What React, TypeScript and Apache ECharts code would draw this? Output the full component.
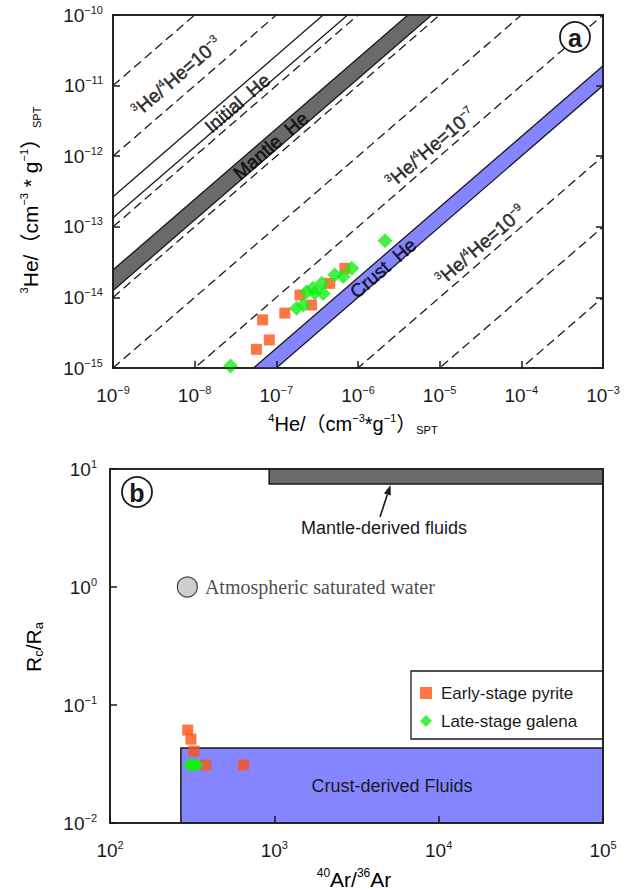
import React, { useEffect, useRef } from 'react';
import * as echarts from 'echarts';

// ---------------- Panel (a): 3He vs 4He ----------------
const he4Min = 1e-9;
const he4Max = 1e-3;
const he3Min = 1e-15;
const he3Max = 1e-10;

const pyriteHe4 = [5.7e-8, 8.2e-8, 6.8e-8, 1.27e-7, 1.95e-7, 2.7e-7, 4.5e-7, 6.9e-7];
const pyriteHe3 = [1.84e-15, 2.5e-15, 4.8e-15, 6.0e-15, 1.08e-14, 7.8e-15, 1.58e-14, 2.58e-14];
const galenaHe4 = [2.75e-8, 1.77e-7, 2.14e-7, 2.35e-7, 2.96e-7, 2.8e-7, 3.6e-7, 3.75e-7, 5.2e-7, 6.6e-7, 8.4e-7, 2.14e-6];
const galenaHe3 = [1.07e-15, 7.0e-15, 7.8e-15, 1.2e-14, 1.15e-14, 1.35e-14, 1.58e-14, 1.14e-14, 2.1e-14, 1.97e-14, 2.58e-14, 6.35e-14];

const dashedRatios = [1e-2, 1e-3, 1e-4, 1e-5, 1e-6, 1e-7, 1e-9, 1e-10, 1e-11];
const initialHeRatios = [2.67e-4, 1.34e-4];
const mantleHeRatios = [1.25e-5, 2.45e-5];
const crustHeRatios = [1.0e-8, 1.9e-8];

const heLabelTexts = [
  '{s|3}{m|He/}{s|4}{m|He=10}{s|−3}',
  '{m|Initial  He}',
  '{m|Mantle  He}',
  '{s|3}{m|He/}{s|4}{m|He=10}{s|−7}',
  '{m|Crust  He}',
  '{s|3}{m|He/}{s|4}{m|He=10}{s|−9}',
];
const heLabelLog4 = [-8.22, -7.476, -7.069, -5.11, -5.692, -4.498];
const heLabelLog3 = [-10.87, -11.251, -11.853, -11.877, -13.588, -13.258];

// ---------------- Panel (b): Rc/Ra vs 40Ar/36Ar ----------------
const arMin = 1e2;
const arMax = 1e5;
const rMin = 1e-2;
const rMax = 1e1;

const pyriteAr = [297, 311, 324, 382, 649];
const pyriteR = [0.0613, 0.0514, 0.0407, 0.031, 0.031];
const galenaAr = [303, 312, 320, 330, 340];
const galenaR = [0.031, 0.031, 0.031, 0.031, 0.031];
const aswPoint = [295.5, 1];
const mantleFluidBox = [930, 7.46, 1e5, 10];
const crustFluidBox = [270, 0.0433, 1e5, 0.01];

const seriesNames = ['Early-stage pyrite', 'Late-stage galena'];

// ---------------- styles ----------------
const FONT = '"Liberation Sans", Arial, "Noto Sans CJK SC", sans-serif';
const SERIF = '"Liberation Serif", "Times New Roman", serif';
const INK = '#1a1a1a';
const ORANGE = '#ff5214';
const GREEN = '#14f014';
const BLUE = '#8585ff';
const GRAY = '#6a6a6a';

const zip = (a: number[], b: number[]) => a.map((v, i) => [v, b[i]]);

const powLabel = (v: number) => {
  const e = Math.round(Math.log10(v));
  return `{b|10}{s|${e < 0 ? '−' + -e : e}}`;
};

const tickRich = {
  b: { fontSize: 19, lineHeight: 22, fontFamily: FONT, color: INK },
  s: { fontSize: 11, lineHeight: 11, fontFamily: FONT, color: INK, verticalAlign: 'top' },
};

function logAxis(gridIndex: number, min: number, max: number, split: number, margin: number, opts: any = {}) {
  return {
    type: 'log',
    logBase: 10,
    gridIndex,
    min,
    max,
    splitNumber: split,
    z: 10,
    axisLine: { show: true, onZero: false, lineStyle: { color: INK, width: 1.6 } },
    axisTick: { show: true, inside: true, length: 7, lineStyle: { color: INK, width: 1.5 } },
    axisLabel: { show: true, margin, formatter: powLabel, rich: tickRich },
    splitLine: { show: false },
    ...opts,
  };
}

export default function App() {
  const ref = useRef<HTMLDivElement>(null);

  useEffect(() => {
    if (!ref.current) return;
    const chart = echarts.init(ref.current, null, { renderer: 'svg' });

    const ratioLine = (R: number, dashed: boolean) => ({
      type: 'line',
      xAxisIndex: 0,
      yAxisIndex: 0,
      data: [
        [he4Min, R * he4Min],
        [he4Max, R * he4Max],
      ],
      symbol: 'none',
      silent: true,
      clip: true,
      z: 3,
      lineStyle: { color: INK, width: 1.3, type: dashed ? [9, 5] : 'solid' },
    });

    const band = (ratios: number[], fill: string) => ({
      type: 'custom',
      xAxisIndex: 0,
      yAxisIndex: 0,
      clip: true,
      silent: true,
      z: 2,
      data: [ratios],
      renderItem: (_p: any, api: any) => {
        const lo = api.value(0);
        const hi = api.value(1);
        const pts = [
          api.coord([he4Min, hi * he4Min]),
          api.coord([he4Max, hi * he4Max]),
          api.coord([he4Max, lo * he4Max]),
          api.coord([he4Min, lo * he4Min]),
        ];
        return { type: 'polygon', shape: { points: pts }, style: { fill, stroke: INK, lineWidth: 1.3 } };
      },
    });

    const box = (vals: number[], fill: string) => ({
      type: 'custom',
      xAxisIndex: 1,
      yAxisIndex: 1,
      clip: true,
      silent: true,
      z: 2,
      data: [vals],
      renderItem: (_p: any, api: any) => {
        const p0 = api.coord([api.value(0), api.value(1)]);
        const p1 = api.coord([api.value(2), api.value(3)]);
        return {
          type: 'rect',
          shape: {
            x: Math.min(p0[0], p1[0]),
            y: Math.min(p0[1], p1[1]),
            width: Math.abs(p1[0] - p0[0]),
            height: Math.abs(p1[1] - p0[1]),
          },
          style: { fill, stroke: INK, lineWidth: 1.5 },
        };
      },
    });

    const labelRich = {
      m: { fontSize: 19, lineHeight: 21, fontFamily: FONT, color: '#000', textBorderColor: '#000', textBorderWidth: 0.5 },
      s: { fontSize: 11, lineHeight: 11, fontFamily: FONT, color: '#000', verticalAlign: 'top', textBorderColor: '#000', textBorderWidth: 0.3 },
    };
    const slopeDeg = (Math.atan((353 / 5) / (490 / 6)) * 180) / Math.PI;

    // arrow geometry (annotation)
    const tail = [380, 517];
    const tip = [390.5, 485];
    const dx = tip[0] - tail[0];
    const dy = tip[1] - tail[1];
    const len = Math.hypot(dx, dy);
    const ux = dx / len;
    const uy = dy / len;
    const bx = tip[0] - ux * 10;
    const by = tip[1] - uy * 10;
    const head = [
      [tip[0], tip[1]],
      [bx - uy * 3.6, by + ux * 3.6],
      [bx + uy * 3.6, by - ux * 3.6],
    ];

    const titleRich = (size: number) => ({
      m: { fontSize: size, lineHeight: size + 3, fontFamily: FONT, color: INK },
      s: { fontSize: 11, lineHeight: 11, fontFamily: FONT, color: INK, verticalAlign: 'top' },
      d: { fontSize: 11, lineHeight: 11, fontFamily: FONT, color: INK, verticalAlign: 'bottom' },
    });

    const circled = (cx: number, cy: number, letter: string) => ({
      type: 'group',
      z: 60,
      children: [
        { type: 'circle', shape: { cx, cy, r: 15 }, style: { fill: '#fff', stroke: INK, lineWidth: 1.8 }, z: 60 },
        {
          type: 'text',
          x: cx,
          y: cy + 1,
          z: 61,
          style: { text: letter, font: `bold 25px ${FONT}`, fill: INK, align: 'center', verticalAlign: 'middle' },
        },
      ],
    });

    const option: any = {
      animation: false,
      backgroundColor: '#fff',
      grid: [
        { left: 113, top: 15, width: 490, height: 353, show: true, borderColor: INK, borderWidth: 1.5, backgroundColor: '#fff' },
        { left: 110, top: 469, width: 493, height: 354, show: true, borderColor: INK, borderWidth: 1.5, backgroundColor: '#fff' },
      ],
      xAxis: [
        logAxis(0, he4Min, he4Max, 6, 16),
        logAxis(1, arMin, arMax, 3, 16),
        logAxis(0, he4Min, he4Max, 6, 0, { position: 'top', axisLabel: { show: false }, axisTick: { show: false } }),
        logAxis(1, arMin, arMax, 3, 0, { position: 'top', axisLabel: { show: false }, axisTick: { show: false } }),
      ],
      yAxis: [
        logAxis(0, he3Min, he3Max, 5, 10),
        logAxis(1, rMin, rMax, 3, 13),
        logAxis(0, he3Min, he3Max, 5, 0, { position: 'right', axisLabel: { show: false } }),
        logAxis(1, rMin, rMax, 3, 0, { position: 'right', axisLabel: { show: false }, axisTick: { show: false } }),
      ],
      legend: {
        orient: 'vertical',
        left: 411,
        top: 671,
        z: 20,
        padding: [12, 10, 7, 9],
        itemGap: 8,
        itemWidth: 12,
        itemHeight: 12,
        selectedMode: false,
        textStyle: { fontSize: 17, fontFamily: FONT, color: INK, lineHeight: 20, padding: [0, 0, 0, 4] },
        data: [
          { name: seriesNames[0], icon: 'rect' },
          { name: seriesNames[1], icon: 'diamond' },
        ],
      },
      series: [
        band(mantleHeRatios, GRAY),
        band(crustHeRatios, BLUE),
        ...dashedRatios.map((r) => ratioLine(r, true)),
        ...initialHeRatios.map((r) => ratioLine(r, false)),
        {
          type: 'scatter',
          silent: true,
          xAxisIndex: 0,
          yAxisIndex: 0,
          z: 4,
          symbolSize: 0,
          itemStyle: { color: '#000' },
          data: heLabelTexts.map((t, i) => ({
            value: [Math.pow(10, heLabelLog4[i]), Math.pow(10, heLabelLog3[i])],
            label: { formatter: t },
          })),
          label: {
            show: true,
            position: 'inside',
            rotate: slopeDeg,
            color: '#000',
            rich: labelRich,
          },
        },
        {
          name: seriesNames[0],
          type: 'scatter',
          xAxisIndex: 0,
          yAxisIndex: 0,
          symbol: 'rect',
          symbolSize: 11,
          z: 5,
          itemStyle: { color: ORANGE },
          data: zip(pyriteHe4, pyriteHe3),
        },
        {
          name: seriesNames[1],
          type: 'scatter',
          xAxisIndex: 0,
          yAxisIndex: 0,
          symbol: 'diamond',
          symbolSize: 15,
          z: 6,
          itemStyle: { color: GREEN },
          data: zip(galenaHe4, galenaHe3),
        },
        box(mantleFluidBox, GRAY),
        box(crustFluidBox, BLUE),
        {
          name: 'Atmospheric saturated water',
          type: 'scatter',
          xAxisIndex: 1,
          yAxisIndex: 1,
          symbol: 'circle',
          symbolSize: 20,
          z: 5,
          itemStyle: { color: '#c2c2c2', borderColor: INK, borderWidth: 1.2 },
          label: {
            show: true,
            position: 'right',
            distance: 7,
            formatter: '{a}',
            fontFamily: SERIF,
            fontSize: 20,
            color: INK,
          },
          data: [aswPoint],
        },
        {
          name: seriesNames[0],
          type: 'scatter',
          xAxisIndex: 1,
          yAxisIndex: 1,
          symbol: 'rect',
          symbolSize: 11,
          z: 5,
          itemStyle: { color: ORANGE },
          data: zip(pyriteAr, pyriteR),
        },
        {
          name: seriesNames[1],
          type: 'scatter',
          xAxisIndex: 1,
          yAxisIndex: 1,
          symbol: 'diamond',
          symbolSize: 13,
          z: 6,
          itemStyle: { color: GREEN },
          data: zip(galenaAr, galenaR),
        },
      ],
      graphic: [
        circled(575, 37, 'a'),
        circled(137, 492, 'b'),
        {
          type: 'rect',
          z: 1,
          shape: { x: 411, y: 671, width: 192, height: 68 },
          style: { fill: '#fff', stroke: INK, lineWidth: 1.3 },
        },
        {
          type: 'text',
          x: 30,
          y: 200,
          rotation: Math.PI / 2,
          z: 50,
          style: {
            text: '{s|3}{m|He/（cm}{s|−3}{m| * g}{s|−1}{m|）}{d|SPT}',
            rich: titleRich(21),
            align: 'center',
            verticalAlign: 'middle',
          },
        },
        {
          type: 'text',
          x: 353,
          y: 424,
          z: 50,
          style: {
            text: '{s|4}{m|He/（cm}{s|−3}{m|*g}{s|−1}{m|）}{d|SPT}',
            rich: titleRich(20),
            align: 'center',
            verticalAlign: 'middle',
          },
        },
        {
          type: 'text',
          x: 33,
          y: 647,
          rotation: Math.PI / 2,
          z: 50,
          style: {
            text: '{m|R}{d|c}{m|/R}{d|a}',
            rich: {
              m: { fontSize: 21, lineHeight: 24, fontFamily: FONT, color: INK },
              d: { fontSize: 13, lineHeight: 13, fontFamily: FONT, color: INK, verticalAlign: 'bottom' },
            },
            align: 'center',
            verticalAlign: 'middle',
          },
        },
        {
          type: 'text',
          x: 354,
          y: 879,
          z: 50,
          style: {
            text: '{s|40}{m|Ar/}{s|36}{m|Ar}',
            rich: {
              m: { fontSize: 21, lineHeight: 24, fontFamily: FONT, color: INK },
              s: { fontSize: 12, lineHeight: 12, fontFamily: FONT, color: INK, verticalAlign: 'top' },
            },
            align: 'center',
            verticalAlign: 'middle',
          },
        },
        {
          type: 'text',
          x: 384,
          y: 528,
          z: 50,
          style: { text: 'Mantle-derived fluids', font: `18px ${FONT}`, fill: INK, align: 'center', verticalAlign: 'middle' },
        },
        {
          type: 'text',
          x: 392,
          y: 786,
          z: 50,
          style: { text: 'Crust-derived Fluids', font: `18px ${FONT}`, fill: INK, align: 'center', verticalAlign: 'middle' },
        },
        {
          type: 'line',
          z: 50,
          shape: { x1: tail[0], y1: tail[1], x2: bx, y2: by },
          style: { stroke: INK, lineWidth: 1.6 },
        },
        {
          type: 'polygon',
          z: 50,
          shape: { points: head },
          style: { fill: INK },
        },
      ],
    };

    chart.setOption(option);
    return () => chart.dispose();
  }, []);

  return <div ref={ref} style={{ position: 'absolute', left: 0, top: 0, width: 633, height: 889 }} />;
}
